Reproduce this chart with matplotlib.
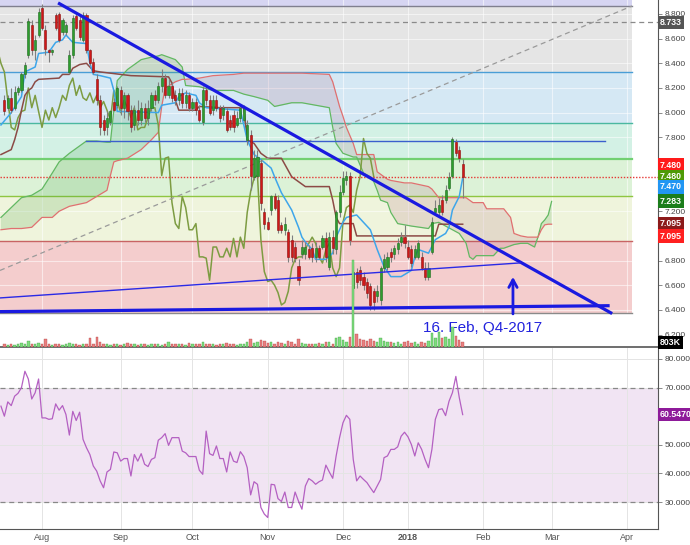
import matplotlib
matplotlib.use("Agg")
import matplotlib.pyplot as plt
import matplotlib.transforms as mtransforms
from matplotlib.ticker import FormatStrFormatter
import numpy as np

plt.rcParams['font.family'] = ['Liberation Sans', 'DejaVu Sans']

# ---- daily candles, bar index 0 = 1 Aug 2017 ----
first_bar = -11
opens = [8.10, 8.04, 8.12, 8.04, 8.17, 8.18, 8.31, 8.47, 8.71, 8.51, 8.63,
         8.85, 8.67, 8.51, 8.49, 8.79, 8.80, 8.65, 8.65, 8.33, 8.47,
         8.78, 8.75, 8.59, 8.79, 8.51, 8.41, 8.27, 8.10, 7.94, 7.88,
         7.92, 8.09, 8.06, 8.18, 8.04, 8.14, 8.02, 7.90, 8.02, 7.94,
         8.04, 7.96, 8.04, 8.14, 8.10, 8.22, 8.28, 8.14, 8.22, 8.14,
         8.10, 8.16, 8.08, 8.14, 8.04, 8.09, 8.02, 7.92, 8.18, 8.10,
         8.02, 8.10, 8.04, 7.98, 8.01, 7.94, 7.98, 7.90, 7.96, 7.94,
         7.78, 7.82, 7.48, 7.49, 7.59, 7.19, 7.11, 7.21, 7.32, 7.29,
         7.09, 7.05, 7.03, 6.97, 6.91, 6.76, 6.85, 6.85, 6.89, 6.90,
         6.83, 6.90, 6.91, 6.98, 6.75, 6.99, 6.89, 7.19, 7.36, 7.45,
         7.49, 6.58, 6.71, 6.72, 6.67, 6.63, 6.59, 6.55, 6.51, 6.48,
         6.74, 6.75, 6.87, 6.85, 6.89, 6.95, 6.99, 6.91, 6.89, 6.83,
         6.83, 6.83, 6.74, 6.67, 6.87, 7.19, 7.19, 7.29, 7.29, 7.39,
         7.49, 7.76, 7.70, 7.58]
closes = [8.01, 8.12, 8.02, 8.17, 8.20, 8.31, 8.39, 8.74, 8.51, 8.59, 8.82,
          8.69, 8.52, 8.49, 8.51, 8.69, 8.59, 8.75, 8.71, 8.47, 8.77,
          8.69, 8.61, 8.79, 8.51, 8.40, 8.33, 8.10, 7.88, 7.86, 7.96,
          8.01, 8.02, 8.20, 8.04, 8.14, 8.01, 7.88, 8.02, 7.94, 8.04,
          7.96, 8.04, 8.14, 8.10, 8.22, 8.28, 8.14, 8.22, 8.12, 8.10,
          8.16, 8.08, 8.14, 8.04, 8.09, 8.02, 7.94, 8.18, 8.10, 8.00,
          8.10, 8.04, 7.96, 8.04, 7.86, 7.88, 7.88, 7.96, 8.04, 8.04,
          7.90, 7.49, 7.63, 7.64, 7.27, 7.10, 7.06, 7.32, 7.23, 7.05,
          7.05, 7.10, 6.83, 6.83, 6.82, 6.64, 6.91, 6.91, 6.83, 6.83,
          6.90, 6.83, 6.98, 6.83, 6.99, 6.90, 7.19, 7.36, 7.47, 7.49,
          6.97, 6.71, 6.63, 6.64, 6.60, 6.54, 6.44, 6.46, 6.55, 6.74,
          6.81, 6.83, 6.83, 6.90, 6.94, 6.99, 6.94, 6.83, 6.78, 6.89,
          6.94, 6.74, 6.67, 6.74, 7.11, 7.23, 7.25, 7.19, 7.37, 7.48,
          7.79, 7.67, 7.63, 7.48]
highs = [8.14, 8.14, 8.20, 8.22, 8.22, 8.33, 8.41, 8.77, 8.75, 8.63, 8.85,
         8.88, 8.71, 8.52, 8.52, 8.81, 8.82, 8.77, 8.73, 8.51, 8.79,
         8.80, 8.78, 8.82, 8.81, 8.52, 8.44, 8.31, 8.14, 7.98, 8.01,
         8.02, 8.12, 8.22, 8.22, 8.17, 8.16, 8.06, 8.06, 8.10, 8.09,
         8.08, 8.10, 8.17, 8.18, 8.25, 8.35, 8.31, 8.27, 8.25, 8.18,
         8.20, 8.20, 8.18, 8.17, 8.12, 8.12, 8.06, 8.22, 8.22, 8.14,
         8.14, 8.14, 8.06, 8.06, 8.04, 7.98, 8.02, 8.01, 8.06, 8.06,
         7.94, 7.86, 7.70, 7.70, 7.62, 7.23, 7.15, 7.33, 7.35, 7.33,
         7.11, 7.15, 7.06, 7.01, 6.95, 6.81, 6.97, 6.95, 6.93, 6.94,
         6.95, 6.93, 7.01, 7.03, 7.03, 7.05, 7.21, 7.41, 7.53, 7.53,
         7.52, 6.76, 6.74, 6.76, 6.71, 6.66, 6.62, 6.58, 6.60, 6.76,
         6.85, 6.87, 6.90, 6.93, 6.98, 7.03, 7.09, 6.97, 6.93, 6.93,
         6.97, 6.87, 6.79, 6.79, 7.15, 7.29, 7.31, 7.33, 7.41, 7.52,
         7.80, 7.79, 7.73, 7.62]
lows = [7.98, 8.02, 8.00, 8.02, 8.14, 8.17, 8.28, 8.44, 8.47, 8.43, 8.61,
        8.67, 8.47, 8.41, 8.47, 8.67, 8.57, 8.63, 8.63, 8.31, 8.44,
        8.67, 8.59, 8.57, 8.48, 8.39, 8.31, 8.06, 7.82, 7.82, 7.82,
        7.90, 8.01, 8.04, 7.98, 7.96, 7.94, 7.84, 7.86, 7.90, 7.90,
        7.92, 7.90, 8.01, 8.06, 8.08, 8.17, 8.12, 8.12, 8.09, 8.06,
        8.06, 8.04, 8.04, 8.01, 8.01, 7.98, 7.92, 7.90, 8.06, 7.98,
        7.98, 8.01, 7.92, 7.94, 7.84, 7.86, 7.84, 7.88, 7.92, 7.92,
        7.74, 7.37, 7.45, 7.47, 7.21, 7.06, 7.05, 7.17, 7.21, 7.02,
        7.02, 7.01, 6.79, 6.79, 6.79, 6.60, 6.82, 6.81, 6.81, 6.79,
        6.79, 6.81, 6.89, 6.79, 6.72, 6.85, 6.85, 7.15, 7.33, 7.41,
        6.93, 6.48, 6.58, 6.60, 6.56, 6.50, 6.40, 6.40, 6.46, 6.44,
        6.71, 6.72, 6.79, 6.81, 6.85, 6.92, 6.90, 6.81, 6.75, 6.81,
        6.81, 6.72, 6.64, 6.64, 6.85, 7.17, 7.17, 7.17, 7.27, 7.37,
        7.47, 7.65, 7.60, 7.31]
volume_m = [0.5, 0.4, 0.6, 0.4, 0.5, 0.7, 0.6, 1.0, 0.5, 0.6, 0.7,
            0.6, 1.3, 0.5, 0.4, 0.5, 0.6, 0.4, 0.5, 0.7, 0.6,
            0.5, 0.4, 0.6, 0.5, 1.6, 0.6, 1.8, 0.8, 0.6, 0.5,
            0.4, 0.5, 0.6, 0.4, 0.5, 0.7, 0.5, 0.6, 0.4, 0.5,
            0.6, 0.4, 0.5, 0.5, 0.6, 0.4, 0.5, 0.8, 0.5, 0.6,
            0.5, 0.6, 0.4, 0.7, 0.5, 0.6, 0.5, 0.9, 0.5, 0.6,
            0.5, 0.4, 0.6, 0.5, 0.7, 0.6, 0.5, 0.4, 0.6, 0.5,
            0.9, 1.4, 0.7, 0.8, 1.2, 1.1, 0.7, 0.9, 0.6, 0.8,
            0.7, 0.6, 1.0, 0.8, 0.6, 1.3, 0.7, 0.6, 0.5, 0.6,
            0.6, 0.7, 0.5, 0.8, 0.9, 0.6, 1.5, 1.7, 1.2, 0.9,
            1.8, 15.0, 2.2, 1.4, 1.2, 1.0, 1.3, 1.1, 0.8, 1.6,
            1.0, 0.9, 0.8, 0.7, 0.8, 0.6, 0.9, 1.0, 0.7, 0.8,
            0.6, 0.9, 0.7, 1.0, 2.4, 1.6, 2.6, 1.5, 1.8, 1.4,
            3.4, 1.9, 1.2, 0.8]

# ---- Ichimoku ----
tenkan_bars = [-12, -9, -6, -5, -2, -1, 2, 4, 6, 7, 9, 13, 14, 15, 17, 20, 21, 22, 34, 35,
               39, 40, 42, 45, 46, 48, 58, 60, 62, 64, 67, 68, 70, 73, 75, 76, 77, 79, 80, 83,
               85, 86, 88, 89, 92, 96, 98, 100, 102, 105, 108, 109, 110, 113, 115, 118, 119,
               120, 122, 123]
tenkan = [7.90, 8.00, 8.13, 8.33, 8.37, 8.48, 8.49, 8.57, 8.59, 8.63, 8.57, 8.56, 8.40, 8.31,
          8.30, 8.28, 8.18, 8.01, 8.00, 8.06, 8.08, 8.13, 8.16, 8.14, 8.08, 8.04, 8.02, 7.78,
          7.66, 7.62, 7.55, 7.48, 7.35, 7.21, 7.07, 6.99, 6.95, 6.89, 6.81, 6.81, 6.86, 6.99,
          7.11, 7.15, 7.17, 7.05, 6.89, 6.75, 6.67, 6.67, 6.72, 6.83, 6.89, 6.86, 6.97, 7.02,
          7.07, 7.21, 7.32, 7.47]
kijun_bars = [-12, -9, -8, -7, -6, -5, -4, -3, -2, -1, 5, 6, 8, 9, 11, 13, 14, 15, 17, 26,
              37, 38, 39, 40, 45, 46, 52, 59, 60, 62, 64, 66, 70, 73, 75, 77, 84, 85, 86, 87,
              91, 92, 115, 116, 123]
kijun = [7.66, 7.70, 7.78, 7.88, 8.02, 8.14, 8.18, 8.20, 8.25, 8.27, 8.28, 8.31, 8.31, 8.36,
         8.39, 8.40, 8.37, 8.34, 8.33, 8.30, 8.29, 8.24, 8.10, 8.02, 8.02, 8.05, 8.04, 8.04,
         7.78, 7.75, 7.67, 7.63, 7.63, 7.48, 7.44, 7.40, 7.40, 7.29, 7.15, 7.10, 7.10, 7.00,
         7.00, 7.095, 7.095]
cloud_bars = [-12, -9, -6, -3, 0, 3, 5, 8, 13, 16, 19, 20, 21, 22, 25, 29, 32, 34, 35, 36,
              39, 41, 42, 46, 50, 56, 59, 62, 66, 68, 73, 76, 84, 85, 86, 87, 88, 89, 91, 92,
              94, 96, 97, 98, 99, 101, 102, 104, 106, 108, 113, 114, 116, 122, 124, 125, 126,
              127, 129, 130, 132, 134, 135, 137, 138, 140, 142, 144, 145, 146, 147, 148, 149]
span_a = [7.15, 7.23, 7.31, 7.33, 7.38, 7.51, 7.60, 7.67, 7.77, 7.77, 7.76, 7.76, 8.02, 8.26,
          8.35, 8.43, 8.45, 8.46, 8.47, 8.46, 8.43, 8.37, 8.22, 8.21, 8.18, 8.18, 8.15, 8.13,
          8.10, 8.05, 8.08, 8.08, 8.04, 7.88, 7.75, 7.71, 7.67, 7.66, 7.64, 7.64, 7.51, 7.48,
          7.44, 7.37, 7.29, 7.27, 7.19, 7.10, 7.09, 7.08, 7.06, 7.10, 7.11, 7.02, 6.94, 6.83,
          6.81, 6.84, 6.84, 6.84, 6.84, 6.90, 6.90, 6.92, 6.93, 6.94, 6.94, 6.91, 6.99, 7.10,
          7.13, 7.17, 7.28]
span_b = [7.05, 7.06, 7.06, 7.07, 7.15, 7.15, 7.20, 7.24, 7.27, 7.32, 7.37, 7.49, 7.60, 7.61,
          7.63, 7.70, 7.78, 7.84, 8.05, 8.20, 8.25, 8.27, 8.27, 8.28, 8.30, 8.31, 8.32, 8.32,
          8.32, 8.32, 8.32, 8.32, 8.31, 8.25, 8.15, 8.05, 7.97, 7.88, 7.75, 7.66, 7.66, 7.66,
          7.66, 7.52, 7.50, 7.46, 7.45, 7.44, 7.43, 7.43, 7.40, 7.38, 7.31, 7.31, 7.31, 7.29,
          7.27, 7.27, 7.27, 7.22, 7.22, 7.22, 7.22, 7.15, 7.02, 7.00, 6.99, 6.99, 6.99, 7.05,
          7.09, 7.095, 7.095]
lag = 26

# ---- RSI(14) ----
rsi_first_bar = -12
rsi = [63.5, 60.0, 65.0, 63.7, 67.0, 68.0, 70.0, 75.7, 73.0, 66.0,
       68.2, 73.0, 59.4, 59.4, 58.9, 59.1, 64.3, 62.1, 63.7, 60.6,
       53.4, 61.7, 58.5, 61.4, 51.9, 49.0, 46.6, 42.6, 40.8, 37.4,
       35.0, 40.5, 41.4, 47.5, 47.2, 44.3, 45.2, 45.2, 39.1, 46.6,
       44.3, 46.9, 43.2, 42.4, 44.9, 45.5, 51.6, 52.5, 53.9, 49.8,
       52.5, 52.5, 52.5, 47.8, 47.2, 45.9, 45.9, 45.9, 41.1, 39.7,
       54.8, 46.9, 46.3, 49.6, 45.2, 45.2, 40.5, 47.5, 44.3, 43.8,
       47.6, 45.9, 42.0, 32.5, 37.1, 36.2, 28.1, 25.8, 24.6, 36.2,
       36.0, 31.2, 30.2, 33.5, 28.1, 28.1, 33.5, 30.3, 27.5, 35.6,
       38.2, 37.4, 36.2, 37.1, 37.7, 42.9, 40.5, 38.3, 46.1, 52.5,
       57.7, 60.3, 58.9, 44.9, 37.4, 39.1, 37.9, 36.8, 35.0, 33.3,
       35.6, 37.9, 45.5, 46.1, 48.4, 48.4, 49.3, 53.0, 54.4, 52.8,
       50.1, 46.1, 50.7, 48.4, 44.9, 42.0, 48.4, 58.9, 62.3, 62.6,
       60.2, 65.2, 68.2, 73.9, 66.5, 60.55]

# ---- drawings ----
fib_low, fib_high = 6.375, 8.865
fib_ratios = [0, 0.236, 0.382, 0.5, 0.618, 0.786, 1.0, 1.272]
fib_fills = ['#f4cdcd', '#eff4dc', '#dcf2d7', '#d3f1e5', '#d5e8f4', '#e5e5e5', '#d6d5f2']
fib_lines = ['#8a8a8a', '#c86464', '#8fc641', '#72d072', '#4bb8a0', '#4a9ed6', '#80808f']
fib_end = 172.5
month_bars = [0, 23, 44, 66, 88, 107, 129, 149, 171]
month_labels = ['Aug', 'Sep', 'Oct', 'Nov', 'Dec', '2018', 'Feb', 'Mar', 'Apr']
# ticks the price labels do not cover
price_ticks = [6.2, 6.4, 6.6, 6.8, 7.2, 7.8, 8.0, 8.2, 8.4, 8.6, 8.8]
rsi_ticks = [30, 40, 50, 70, 80]

price_labels = [('8.733', 8.733, '#555555'), ('7.480', 7.575, '#ff1a1a'),
                ('7.480', 7.478, '#4e9a06'), ('7.470', 7.397, '#2196f3'),
                ('7.283', 7.283, '#1b7d1b'), ('7.095', 7.097, '#8b1a1a'),
                ('7.095', 6.999, '#ff2020')]

bars = np.arange(first_bar, first_bar + len(closes))
o = np.array(opens); c = np.array(closes); h = np.array(highs); l = np.array(lows)
up = c >= o

fig = plt.figure(figsize=(6.9, 5.45), dpi=100)
ax = fig.add_axes([0, 0.3633, 0.9536, 0.6367])
ax_rsi = fig.add_axes([0, 0.0294, 0.9536, 0.3321], sharex=ax)

ax.set_xlim(-12.28, 180.1)
ax.set_ylim(6.099, 8.9135)

# fibonacci retracement
levels = [fib_low + r * (fib_high - fib_low) for r in fib_ratios]
for i in range(len(levels) - 1):
    ax.fill_between([-20, fib_end], levels[i], levels[i + 1], color=fib_fills[i], lw=0, zorder=0.3)
for i in range(len(levels) - 1):
    ax.plot([-20, fib_end], [levels[i], levels[i]], color=fib_lines[i],
            lw=1.6 if i == 3 else 1.0, zorder=0.6)

ax.grid(True, color='white', alpha=0.55, lw=0.8, zorder=0.5)
ax.set_axisbelow(True)

# ichimoku cloud
sa = np.array(span_a); sb = np.array(span_b)
ax.fill_between(cloud_bars, sa, sb, where=sa >= sb, interpolate=True, color='#3f9f3f', alpha=0.18, lw=0, zorder=1)
ax.fill_between(cloud_bars, sa, sb, where=sa < sb, interpolate=True, color='#a04060', alpha=0.14, lw=0, zorder=1)
ax.plot(cloud_bars, span_a, color='#62b862', lw=0.9, zorder=2)
ax.plot(cloud_bars, span_b, color='#e07070', lw=0.9, zorder=2)
ax.plot(bars - lag, closes, color='#7d9c42', lw=1.1, zorder=2)
ax.plot(kijun_bars, kijun, color='#8c4b46', lw=1.1, zorder=2)
ax.plot(tenkan_bars, tenkan, color='#3ea6ea', lw=1.1, zorder=2)

# reference lines
ax.axhline(8.733, color='#8a8a8a', ls=(0, (4, 3)), lw=0.9, zorder=2)
ax.axhline(7.48, color='#e53935', ls=(0, (1, 1.2)), lw=1.0, zorder=2)
ax.plot([-12.28, fib_end], [6.72, 8.865], color='#9a9a9a', ls=(0, (4, 3)), lw=0.9, zorder=2)
ax.plot([13, 164.6], [7.77, 7.77], color='#3a5fcd', lw=1.0, zorder=2)

# candles
ax.vlines(bars, l, h, color='#7f7f7f', lw=0.8, zorder=4)
body = np.maximum(np.abs(c - o), 0.01)
ax.bar(bars, body, bottom=np.minimum(o, c), width=0.62,
       color=np.where(up, '#2e9e2e', '#d01818'),
       edgecolor=np.where(up, '#1d6b1d', '#8b0f0f'), lw=0.4, zorder=5)

# trend lines and annotation
ax.plot([4.7, 166.7], [8.89, 6.37], color='#1a1ae0', lw=2.3, zorder=6, solid_capstyle='butt')
ax.plot([-12.28, 165.5], [6.386, 6.434], color='#1a1ae0', lw=2.3, zorder=6)
ax.plot([-12.28, 139.8], [6.497, 6.781], color='#2a2ae6', lw=1.0, zorder=6)
ax.annotate('', xy=(137.7, 6.69), xytext=(137.7, 6.345),
            arrowprops=dict(arrowstyle='->,head_length=0.55,head_width=0.3',
                            color='#1a1ae0', lw=2.0), zorder=7)
ax.text(128.7, 6.253, '16. Feb, Q4-2017', color='#2222dd', fontsize=11,
        ha='center', va='center', zorder=7)

# volume overlay
ax_vol = ax.twinx()
ax_vol.set_ylim(0, 60.0)
ax_vol.bar(bars, volume_m, width=0.7, color=np.where(up, '#7fdc7f', '#e88080'),
           edgecolor=np.where(up, '#3c9a3c', '#b04040'), lw=0.25)
ax_vol.axis('off')

# axes styling
for a in (ax, ax_rsi):
    a.spines['top'].set_visible(False)
    a.spines['left'].set_visible(False)
    a.spines['right'].set_color('#555555')
    a.spines['bottom'].set_color('#555555')
    a.yaxis.tick_right()
    a.tick_params(axis='y', length=3, width=0.6, color='#777777', labelsize=6,
                  labelcolor='#444444', pad=2)

ax.set_yticks(price_ticks)
ax.yaxis.set_major_formatter(FormatStrFormatter('%.3f'))
ax.tick_params(axis='x', length=0, labelbottom=False)
ax.spines['bottom'].set_linewidth(1.2)

trans = mtransforms.blended_transform_factory(ax.transAxes, ax.transData)
for txt, ypos, col in price_labels:
    ax.text(1.003, ypos, txt, transform=trans, color='white', fontsize=6.3, fontweight='bold',
            ha='left', va='center', clip_on=False, zorder=10,
            bbox=dict(boxstyle='square,pad=0.25', fc=col, ec='none'))
vtrans = mtransforms.blended_transform_factory(ax_vol.transAxes, ax_vol.transData)
ax_vol.text(1.003, volume_m[-1], '803K', transform=vtrans, color='white', fontsize=6.3,
            fontweight='bold', ha='left', va='center', clip_on=False, zorder=10,
            bbox=dict(boxstyle='square,pad=0.25', fc='black', ec='none'))

# RSI pane
ax_rsi.set_ylim(20.59, 83.83)
ax_rsi.axhspan(30, 70, color='#f1e4f3', lw=0, zorder=0.3)
ax_rsi.grid(True, color='#e4e4e4', lw=0.7, zorder=0.5)
ax_rsi.set_axisbelow(True)
ax_rsi.axhline(70, color='#888888', ls=(0, (4, 3)), lw=0.9, zorder=1)
ax_rsi.axhline(30, color='#888888', ls=(0, (4, 3)), lw=0.9, zorder=1)
rsi_bars = np.arange(rsi_first_bar, rsi_first_bar + len(rsi))
ax_rsi.plot(rsi_bars, rsi, color='#b460c2', lw=0.9, zorder=3)
ax_rsi.set_yticks(rsi_ticks)
ax_rsi.yaxis.set_major_formatter(FormatStrFormatter('%.4f'))
rtrans = mtransforms.blended_transform_factory(ax_rsi.transAxes, ax_rsi.transData)
ax_rsi.text(1.003, rsi[-1], '60.5470', transform=rtrans, color='white', fontsize=6.3,
            fontweight='bold', ha='left', va='center', clip_on=False, zorder=10,
            bbox=dict(boxstyle='square,pad=0.25', fc='#8e1a9a', ec='none'))

ax_rsi.set_xticks(month_bars)
ax_rsi.set_xticklabels(month_labels)
ax_rsi.tick_params(axis='x', length=0, labelsize=6.5, labelcolor='#555555', pad=3)
ax_rsi.get_xticklabels()[5].set_fontweight('bold')

fig.savefig('out.png', dpi=100)
